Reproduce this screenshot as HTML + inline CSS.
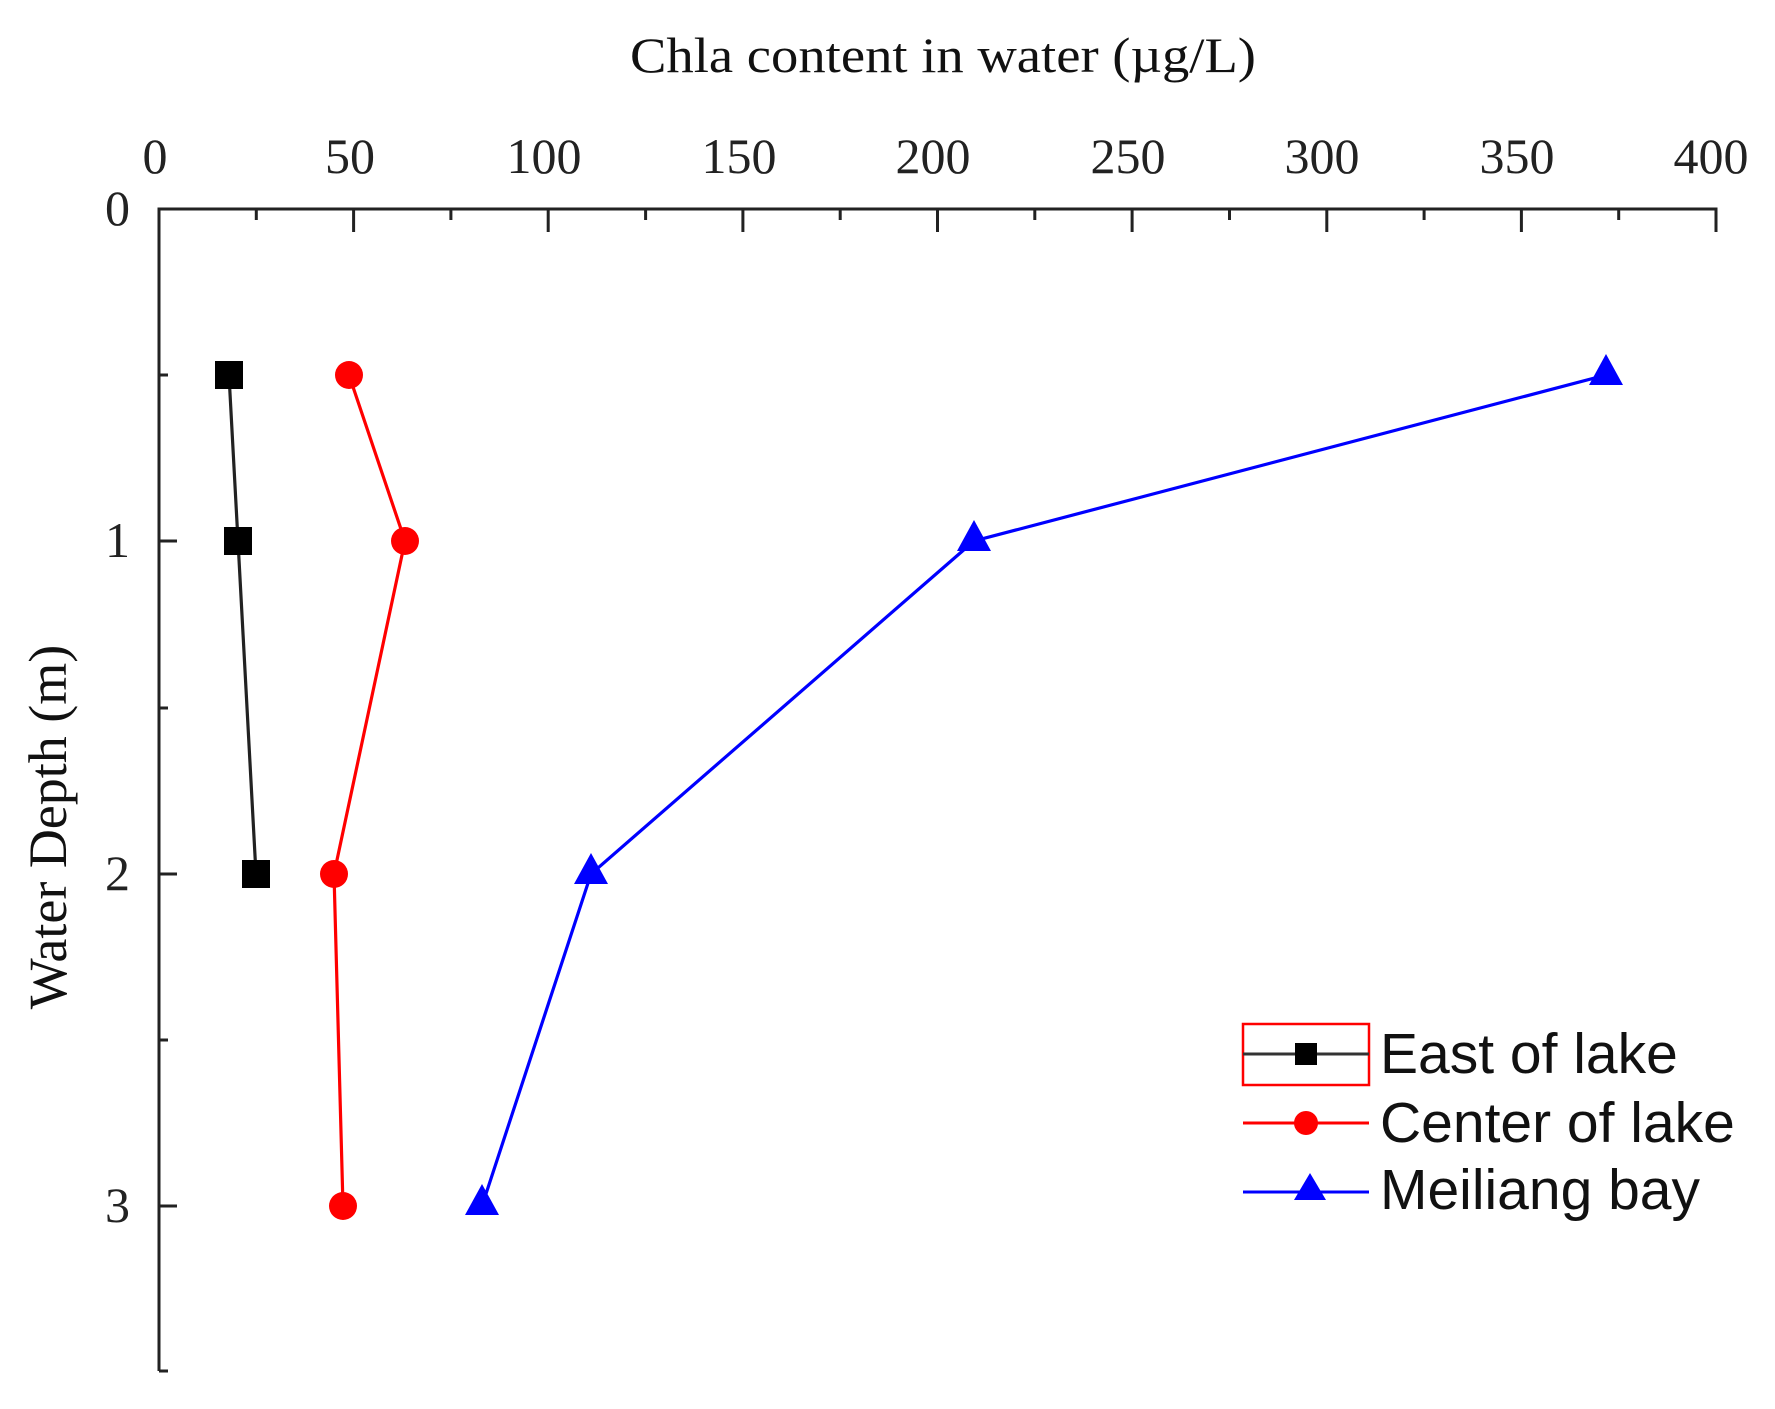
<!DOCTYPE html>
<html><head><meta charset="utf-8"><style>html,body{margin:0;padding:0;background:#fff}</style></head>
<body>
<svg width="1775" height="1404" viewBox="0 0 1775 1404" xmlns="http://www.w3.org/2000/svg">
<rect width="1775" height="1404" fill="#fff"/>
<text x="943" y="72" font-family="Liberation Serif, serif" font-size="50" text-anchor="middle" textLength="626" lengthAdjust="spacingAndGlyphs" fill="#111">Chla content in water (µg/L)</text>
<g font-family="Liberation Serif, serif" font-size="50" fill="#222" text-anchor="middle">
<text x="155" y="173">0</text><text x="350" y="173">50</text><text x="544" y="173">100</text>
<text x="739" y="173">150</text><text x="933" y="173">200</text><text x="1128" y="173">250</text>
<text x="1322" y="173">300</text><text x="1517" y="173">350</text><text x="1711" y="173">400</text>
</g>
<g font-family="Liberation Serif, serif" font-size="50" fill="#222" text-anchor="end">
<text x="130" y="225">0</text><text x="130" y="557">1</text><text x="130" y="890">2</text><text x="130" y="1222">3</text>
</g>
<text transform="translate(66,827) rotate(-90)" font-family="Liberation Serif, serif" font-size="54" text-anchor="middle" fill="#111">Water Depth (m)</text>
<g stroke="#222" stroke-width="3" fill="none">
<path d="M159,1371 V209 H1716 V232"/>
<path d="M159,209v23 M353.6,209v23 M548.2,209v23 M742.9,209v23 M937.5,209v23 M1132.1,209v23 M1326.8,209v23 M1521.4,209v23"/>
<path d="M256.3,209v11 M450.9,209v11 M645.6,209v11 M840.2,209v11 M1034.8,209v11 M1229.5,209v11 M1424.1,209v11 M1618.7,209v11"/>
<path d="M159,541h18 M159,874h18 M159,1206h18 M159,375h9 M159,708h9 M159,1040h9 M159,1371h9"/>
</g>
<polyline points="229,375 238,541 256,874" stroke="#222" stroke-width="3.2" fill="none"/>
<polyline points="349,375 405,541 334,874 343,1206" stroke="#f00" stroke-width="3.2" fill="none"/>
<polyline points="1606,375 974,541 591,874 482,1206" stroke="#00f" stroke-width="3.2" fill="none"/>
<g fill="#000"><rect x="215" y="361" width="28" height="28"/><rect x="224" y="527" width="28" height="28"/><rect x="242" y="860" width="28" height="28"/></g>
<g fill="#f00"><circle cx="349" cy="375" r="14"/><circle cx="405" cy="541" r="14"/><circle cx="334" cy="874" r="14"/><circle cx="343" cy="1206" r="14"/></g>
<g fill="#00f">
<polygon points="1606,354 1589,385 1623,385"/><polygon points="974,520 957,551 991,551"/>
<polygon points="591,853 574,884 608,884"/><polygon points="482,1184 465,1215 499,1215"/>
</g>
<rect x="1243" y="1024" width="126" height="61" fill="none" stroke="#f00" stroke-width="2.5"/>
<line x1="1243" y1="1054" x2="1369" y2="1054" stroke="#333" stroke-width="3"/>
<rect x="1295" y="1043" width="22" height="22" fill="#000"/>
<line x1="1243" y1="1123" x2="1369" y2="1123" stroke="#f00" stroke-width="3"/>
<circle cx="1306" cy="1123" r="12" fill="#f00"/>
<line x1="1243" y1="1192" x2="1369" y2="1192" stroke="#00f" stroke-width="3"/>
<polygon points="1310,1173 1294,1200 1326,1200" fill="#00f"/>
<g font-family="Liberation Sans, sans-serif" font-size="57" fill="#111">
<text x="1380" y="1073">East of lake</text>
<text x="1380" y="1142">Center of lake</text>
<text x="1380" y="1209">Meiliang bay</text>
</g>
</svg>
</body></html>
